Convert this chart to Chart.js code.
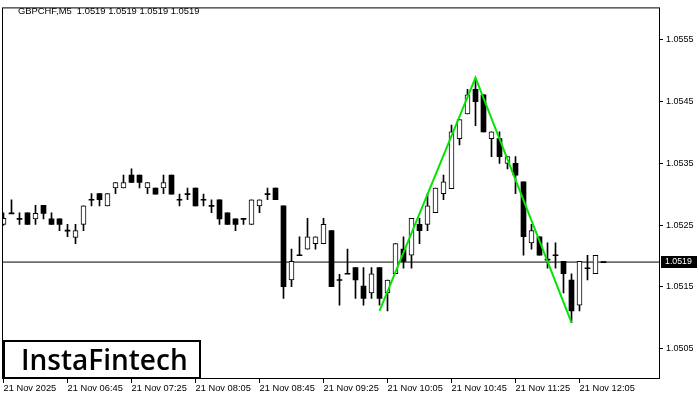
<!DOCTYPE html>
<html>
<head>
<meta charset="utf-8">
<script src="https://cdn.jsdelivr.net/npm/chart.js@4.4.1/dist/chart.umd.min.js"></script>
<style>
  html, body { margin: 0; padding: 0; background: #fff; }
  #wrap { width: 700px; height: 400px; }
</style>
</head>
<body>
<div id="wrap"><canvas id="chart" width="700" height="400"></canvas></div>
<script>
// candle data (M5 bars)
const symbolTitle = "GBPCHF,M5  1.0519 1.0519 1.0519 1.0519";
const opens = [
  1.05251, 1.05269, 1.05260, 1.05270, 1.05260, 1.05282, 1.05260, 1.05260, 1.05241, 1.05230,
  1.05251, 1.05291, 1.05301, 1.05281, 1.05310, 1.05310, 1.05331, 1.05331, 1.05310, 1.05310,
  1.05310, 1.05331, 1.05291, 1.05300, 1.05310, 1.05291, 1.05281, 1.05291, 1.05270, 1.05260,
  1.05260, 1.05251, 1.05281, 1.05300, 1.05310, 1.05281, 1.05161, 1.05201, 1.05211, 1.05220,
  1.05220, 1.05241, 1.05161, 1.05171, 1.05181, 1.05151, 1.05140, 1.05181, 1.05140, 1.05171,
  1.05211, 1.05201, 1.05251, 1.05251, 1.05270, 1.05301, 1.05309, 1.05390, 1.05430, 1.05470,
  1.05461, 1.05390, 1.05390, 1.05350, 1.05350, 1.05320, 1.05221, 1.05231, 1.05194, 1.05201,
  1.05191, 1.05161, 1.05120, 1.05180, 1.05171, 1.05190
];
const highs = [
  1.05270, 1.05291, 1.05270, 1.05270, 1.05282, 1.05282, 1.05270, 1.05260, 1.05251, 1.05251,
  1.05281, 1.05301, 1.05301, 1.05301, 1.05319, 1.05331, 1.05341, 1.05331, 1.05319, 1.05310,
  1.05331, 1.05331, 1.05300, 1.05310, 1.05310, 1.05300, 1.05291, 1.05291, 1.05270, 1.05260,
  1.05260, 1.05291, 1.05291, 1.05310, 1.05310, 1.05281, 1.05211, 1.05231, 1.05261, 1.05231,
  1.05261, 1.05241, 1.05170, 1.05211, 1.05181, 1.05181, 1.05181, 1.05181, 1.05161, 1.05220,
  1.05231, 1.05261, 1.05261, 1.05300, 1.05310, 1.05331, 1.05412, 1.05421, 1.05470, 1.05485,
  1.05461, 1.05401, 1.05401, 1.05361, 1.05361, 1.05320, 1.05251, 1.05231, 1.05221, 1.05221,
  1.05191, 1.05171, 1.05191, 1.05201, 1.05201, 1.05190
];
const lows = [
  1.05250, 1.05269, 1.05251, 1.05251, 1.05251, 1.05260, 1.05251, 1.05241, 1.05231, 1.05220,
  1.05241, 1.05281, 1.05281, 1.05281, 1.05301, 1.05310, 1.05319, 1.05310, 1.05301, 1.05300,
  1.05301, 1.05300, 1.05281, 1.05291, 1.05281, 1.05281, 1.05270, 1.05251, 1.05251, 1.05241,
  1.05251, 1.05251, 1.05270, 1.05291, 1.05291, 1.05131, 1.05150, 1.05201, 1.05211, 1.05211,
  1.05220, 1.05150, 1.05120, 1.05171, 1.05131, 1.05120, 1.05131, 1.05120, 1.05111, 1.05171,
  1.05180, 1.05180, 1.05220, 1.05241, 1.05270, 1.05291, 1.05309, 1.05380, 1.05430, 1.05411,
  1.05401, 1.05361, 1.05350, 1.05341, 1.05301, 1.05201, 1.05211, 1.05201, 1.05180, 1.05180,
  1.05140, 1.05092, 1.05111, 1.05161, 1.05171, 1.05190
];
const closes = [
  1.05261, 1.05269, 1.05260, 1.05251, 1.05269, 1.05269, 1.05251, 1.05251, 1.05241, 1.05241,
  1.05281, 1.05291, 1.05291, 1.05301, 1.05319, 1.05319, 1.05319, 1.05319, 1.05319, 1.05300,
  1.05319, 1.05300, 1.05291, 1.05300, 1.05281, 1.05291, 1.05281, 1.05260, 1.05251, 1.05251,
  1.05260, 1.05291, 1.05291, 1.05300, 1.05291, 1.05150, 1.05191, 1.05201, 1.05231, 1.05231,
  1.05251, 1.05150, 1.05161, 1.05171, 1.05161, 1.05131, 1.05171, 1.05131, 1.05161, 1.05220,
  1.05191, 1.05261, 1.05241, 1.05281, 1.05310, 1.05320, 1.05401, 1.05421, 1.05461, 1.05450,
  1.05401, 1.05401, 1.05361, 1.05361, 1.05331, 1.05231, 1.05241, 1.05201, 1.05194, 1.05201,
  1.05171, 1.05111, 1.05191, 1.05180, 1.05201, 1.05190
];
const bidPrice = 1.0519;

// double top lines (bar index / price)
const patternIdx = [47, 59, 71];
const patternPrice = [1.05111, 1.05489, 1.05092];

const xTickIdx = [0, 8, 16, 24, 32, 40, 48, 56, 64, 72];
const xTickLabels = ["21 Nov 2025", "21 Nov 06:45", "21 Nov 07:25", "21 Nov 08:05", "21 Nov 08:45",
  "21 Nov 09:25", "21 Nov 10:05", "21 Nov 10:45", "21 Nov 11:25", "21 Nov 12:05"];
const yTicks = [1.0505, 1.0515, 1.0525, 1.0535, 1.0545, 1.0555];

const FONT = "'Liberation Sans', Arial, sans-serif";
Chart.defaults.font.family = FONT;
Chart.defaults.color = '#000';

const half = 0.000008; // ~half a pixel, so a doji still shows a dash
const wicks = opens.map((o, i) => ({ x: i, y: [lows[i], highs[i]] }));
const bodies = opens.map((o, i) => {
  const c = closes[i];
  if (Math.abs(c - o) < 0.000005) return { x: i, y: [o - half, o + half] };
  return { x: i, y: [Math.min(o, c), Math.max(o, c)] };
});
const bodyFill = opens.map((o, i) => closes[i] - o > 0.000005 ? '#ffffff' : '#000000');
const bodyBorder = opens.map((o, i) => closes[i] - o > 0.000005 ? 1 : 0);

const xMin = -0.0625, xMax = 81.9375;

const framePlugin = {
  id: 'frame',
  afterDraw(chart) {
    const ctx = chart.ctx;
    const a = chart.chartArea;
    ctx.save();
    ctx.strokeStyle = '#000';
    ctx.lineWidth = 1;
    ctx.strokeRect(a.left - 0.5, a.top - 0.5, a.right - a.left + 1, a.bottom - a.top);

    // header
    ctx.fillStyle = '#000';
    ctx.font = "9.4px " + FONT;
    ctx.textBaseline = 'middle';
    ctx.textAlign = 'left';
    ctx.fillText(symbolTitle, 18, 11);

    // bid price tag
    const yb = Math.round(chart.scales.y.getPixelForValue(bidPrice));
    ctx.fillStyle = '#000';
    ctx.fillRect(661, yb - 6, 36, 12);
    ctx.fillStyle = '#fff';
    ctx.font = "8.8px " + FONT;
    ctx.fillText(bidPrice.toFixed(4), 665, yb);

    // logo box
    ctx.fillStyle = '#fff';
    ctx.fillRect(3, 340, 198, 39);
    ctx.strokeStyle = '#000';
    ctx.lineWidth = 2;
    ctx.strokeRect(4, 341, 196, 37);
    ctx.fillStyle = '#000';
    ctx.font = "600 28px 'Open Sans', sans-serif";
    ctx.textBaseline = 'alphabetic';
    ctx.fillText('InstaFintech', 21, 370);
    ctx.restore();
  }
};

new Chart(document.getElementById('chart'), {
  type: 'bar',
  data: {
    datasets: [
      {
        type: 'line',
        data: patternIdx.map((v, i) => ({ x: v, y: patternPrice[i] })),
        borderColor: '#00e600',
        borderWidth: 2,
        pointRadius: 0,
        order: 0
      },
      {
        data: bodies,
        backgroundColor: bodyFill,
        borderColor: '#000',
        borderWidth: bodyBorder,
        borderSkipped: false,
        barThickness: 5,
        grouped: false,
        order: 1
      },
      {
        data: wicks,
        backgroundColor: '#000',
        borderWidth: 0,
        barThickness: 1,
        grouped: false,
        order: 2
      },
      {
        type: 'line',
        data: [{ x: xMin, y: bidPrice }, { x: xMax, y: bidPrice }],
        borderColor: '#000',
        borderWidth: 1,
        pointRadius: 0,
        order: 3
      }
    ]
  },
  options: {
    responsive: false,
    animation: false,
    devicePixelRatio: 1,
    layout: { padding: { left: 3, top: 3, right: 0, bottom: 0 } },
    plugins: { legend: { display: false }, tooltip: { enabled: false } },
    scales: {
      x: {
        type: 'linear',
        min: xMin,
        max: xMax,
        offset: false,
        afterBuildTicks: axis => { axis.ticks = xTickIdx.map(v => ({ value: v })); },
        afterFit: s => { s.height = 21; },
        grid: { drawOnChartArea: false, drawTicks: true, tickLength: 4, color: '#000', offset: false },
        border: { display: false },
        ticks: {
          autoSkip: false,
          maxRotation: 0,
          minRotation: 0,
          align: 'start',
          padding: 0,
          font: { size: 9.3 },
          callback: (v, i) => xTickLabels[i]
        }
      },
      y: {
        type: 'linear',
        position: 'right',
        min: 1.050005,
        max: 1.056011,
        afterBuildTicks: axis => { axis.ticks = yTicks.map(v => ({ value: v })); },
        afterFit: s => { s.width = 41; },
        grid: { drawOnChartArea: false, drawTicks: true, tickLength: 4, color: '#000' },
        border: { display: false },
        ticks: {
          padding: 3,
          font: { size: 9 },
          callback: v => v.toFixed(4)
        }
      }
    }
  },
  plugins: [framePlugin]
});
</script>
</body>
</html>
